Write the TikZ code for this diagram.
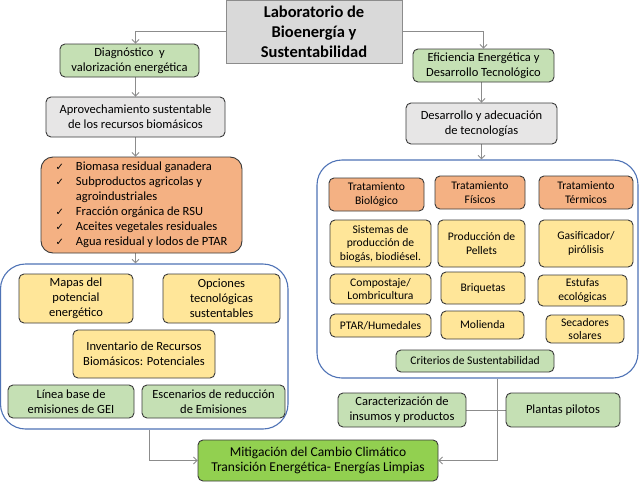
\documentclass[tikz,border=0pt]{standalone}
\usepackage{fontspec}
\setmainfont{Carlito}
\newfontfamily\checkfont{DejaVu Sans}
\usepackage{xcolor}
\usetikzlibrary{arrows.meta}
\definecolor{titlegray}{HTML}{D9D9D9}
\definecolor{boxgray}{HTML}{E7E6E6}
\definecolor{palegreen}{HTML}{C5E0B4}
\definecolor{peach}{HTML}{F4B183}
\definecolor{paleyellow}{HTML}{FFE699}
\definecolor{leafgreen}{HTML}{92D050}
\definecolor{frameblue}{HTML}{4F73B6}
\definecolor{linkgray}{HTML}{8C8C8C}
\definecolor{edgedark}{HTML}{3A3A3A}
\newcommand{\ck}{{\checkfont\fontsize{10}{10}\selectfont ✓}}
\tikzset{>={Straight Barb[length=3.5pt,width=7pt]}, x=1pt, y=-1pt}
\tikzstyle{cell}=[draw=edgedark, line width=0.9, rounded corners=5, inner sep=0pt, align=center, font=\fontsize{12.5}{15}\selectfont]
\tikzstyle{labtitle}=[cell, rounded corners=0, draw=linkgray, fill=titlegray, font=\fontsize{16.5}{20}\selectfont\bfseries]
\tikzstyle{greencell}=[cell, fill=palegreen]
\tikzstyle{graycell}=[cell, fill=boxgray]
\tikzstyle{peachcell}=[cell, fill=peach]
\tikzstyle{yellowcell}=[cell, fill=paleyellow]
\tikzstyle{tight}=[font=\fontsize{11.6}{13.5}\selectfont]
\tikzstyle{panel}=[draw=frameblue, line width=1.1, rounded corners=25, fill=white, inner sep=0pt]
\tikzstyle{arrow}=[->, draw=linkgray, line width=0.9]
\tikzstyle{simple}=[-, draw=linkgray, line width=0.9]
\pgfdeclarelayer{backlayer}
\pgfdeclarelayer{edgelayer}
\pgfdeclarelayer{nodelayer}
\pgfsetlayers{backlayer,edgelayer,nodelayer,main}

\begin{document}
\begin{tikzpicture}
	\useasboundingbox (0, 0) rectangle (640, 482);
	\begin{pgfonlayer}{backlayer}
		\node [style=panel, minimum width=287.5, minimum height=165] (30) at (144.25, 346.5) {};
		\node [style=panel, minimum width=321, minimum height=218] (31) at (477.5, 269) {};
	\end{pgfonlayer}
	\begin{pgfonlayer}{nodelayer}
		\node [style=labtitle, minimum width=176, minimum height=63] (0) at (314, 31.5) {Laboratorio de\\Bioenergía y\\Sustentabilidad};
		% left branch
		\node [style=greencell, minimum width=139, minimum height=33] (1) at (129.5, 60.5) {Diagnóstico \ y\\valorización energética};
		\node [style=graycell, minimum width=179, minimum height=40] (2) at (135.5, 117) {Aprovechamiento sustentable\\de los recursos biomásicos};
		\node [style=peachcell, rounded corners=12, minimum width=201, minimum height=96] (3) at (141.5, 205) {%
			\begin{tabular}{@{}l@{\hspace{12pt}}l@{}}
				\ck & Biomasa residual ganadera\\
				\ck & Subproductos agricolas y\\
				    & agroindustriales\\
				\ck & Fracción orgánica de RSU\\
				\ck & Aceites vegetales residuales\\
				\ck & Agua residual y lodos de PTAR
			\end{tabular}};
		\node [style=yellowcell, minimum width=114, minimum height=49] (4) at (76, 298.5) {Mapas del\\potencial\\energético};
		\node [style=yellowcell, minimum width=117, minimum height=49] (5) at (221.5, 298.5) {Opciones\\tecnológicas\\sustentables};
		\node [style=yellowcell, minimum width=142, minimum height=48] (6) at (144, 354) {Inventario de Recursos\\Biomásicos: Potenciales};
		\node [style=greencell, minimum width=126, minimum height=33] (7) at (71, 401.5) {Línea base de\\emisiones de GEI};
		\node [style=greencell, minimum width=143, minimum height=33] (8) at (213.5, 401.5) {Escenarios de reducción\\de Emisiones};
		\node [style=cell, fill=leafgreen, font=\fontsize{13.5}{15.5}\selectfont, minimum width=240, minimum height=41] (9) at (318, 460.5) {Mitigación del Cambio Climático\\Transición Energética- Energías Limpias};
		% right branch
		\node [style=greencell, minimum width=141, minimum height=33] (10) at (483.5, 65.5) {Eficiencia Energética y\\Desarrollo Tecnológico};
		\node [style=graycell, minimum width=151, minimum height=41] (11) at (481.5, 123.5) {Desarrollo y adecuación\\de tecnologías};
		\node [style=peachcell, tight, minimum width=95, minimum height=33] (12) at (376.5, 194.5) {Tratamiento\\Biológico};
		\node [style=peachcell, tight, minimum width=90, minimum height=33] (13) at (480, 192.5) {Tratamiento\\Físicos};
		\node [style=peachcell, tight, minimum width=94, minimum height=33] (14) at (586, 192.5) {Tratamiento\\Térmicos};
		\node [style=yellowcell, tight, minimum width=101, minimum height=47] (15) at (380.5, 243.5) {Sistemas de\\producción de\\biogás, biodiésel.};
		\node [style=yellowcell, tight, minimum width=87, minimum height=47] (16) at (481.5, 243.5) {Producción de\\Pellets};
		\node [style=yellowcell, tight, minimum width=94, minimum height=47] (17) at (586, 243.5) {Gasificador/\\pirólisis};
		\node [style=yellowcell, tight, minimum width=101, minimum height=30] (18) at (380.5, 289) {Compostaje/\\Lombricultura};
		\node [style=yellowcell, tight, minimum width=84, minimum height=32] (19) at (483, 288) {Briquetas};
		\node [style=yellowcell, tight, minimum width=89, minimum height=31] (20) at (582.5, 290.5) {Estufas\\ecológicas};
		\node [style=yellowcell, tight, minimum width=101, minimum height=23] (21) at (380.5, 325.5) {PTAR/Humedales};
		\node [style=yellowcell, tight, minimum width=83, minimum height=28] (22) at (482.5, 325) {Molienda};
		\node [style=yellowcell, tight, minimum width=78, minimum height=28] (23) at (585, 329) {Secadores\\solares};
		\node [style=greencell, tight, minimum width=158, minimum height=22] (24) at (475, 361) {Criterios de Sustentabilidad};
		\node [style=greencell, minimum width=128, minimum height=34] (25) at (402, 410) {Caracterización de\\insumos y productos};
		\node [style=greencell, minimum width=114, minimum height=34] (26) at (563, 410) {Plantas pilotos};
	\end{pgfonlayer}
	\begin{pgfonlayer}{edgelayer}
		\draw [style=arrow] (0.west) -| (1.north -| 2.north);
		\draw [style=arrow] (1.south -| 2.north) to (2.north);
		\draw [style=arrow] (2.south) to (3.north -| 2.south);
		\draw [style=arrow] (3.south -| 2.south) to (30.north -| 2.south);
		\draw [style=arrow] ([xshift=5]30.south) |- (9.west);

		\draw [style=arrow] (0.east) -| (10.north);
		\draw [style=arrow] (10.south -| 11.north) to (11.north);
		\draw [style=arrow] (11.south) to (31.north -| 11.south);
		\draw [style=arrow] ([xshift=19.5]31.south) |- (9.east);
		\draw [style=simple] (25.east) to (26.west);
	\end{pgfonlayer}
\end{tikzpicture}
\end{document}
